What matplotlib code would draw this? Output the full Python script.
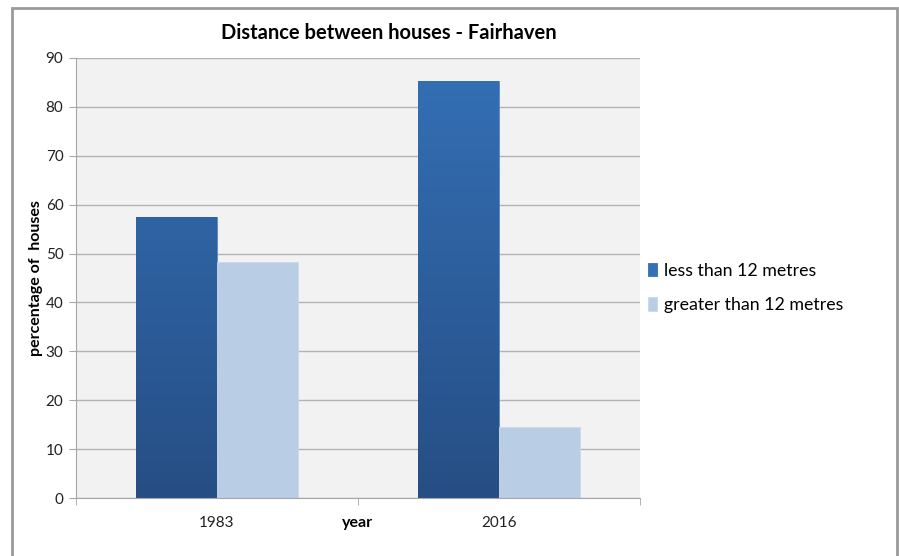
import matplotlib.pyplot as plt
import numpy as np
from matplotlib.colors import LinearSegmentedColormap
from matplotlib.patches import Rectangle

plt.rcParams['font.family'] = ['Lato', 'DejaVu Sans']

years = ['1983', '2016']
less_than_12 = [57.4, 85.2]
greater_than_12 = [48.3, 14.6]
series_names = ['less than 12 metres', 'greater than 12 metres']

dark_top = '#3470b6'
dark_bottom = '#264e84'
light = '#b9cde5'

fig = plt.figure(figsize=(8.99, 5.56), dpi=100)
ax = fig.add_axes([0.0845, 0.1043, 0.6273, 0.7914])
ax.set_facecolor('#f2f2f2')

x = np.arange(len(years))
width = 0.287

# dark series gets a vertical gradient, clipped to each bar
grad = LinearSegmentedColormap.from_list('blues', [dark_bottom, dark_top])
bars_dark = ax.bar(x - width / 2, less_than_12, width, color=dark_top,
                   edgecolor='#5b86c0', linewidth=0.6, zorder=2,
                   label=series_names[0])
for b in bars_dark:
    bx = b.get_x()
    bw = b.get_width()
    img = ax.imshow(np.linspace(0, 1, 256).reshape(-1, 1), cmap=grad,
                    origin='lower', aspect='auto',
                    extent=[bx, bx + bw, 0, 90], zorder=2.5)
    img.set_clip_path(b)

ax.bar(x + width / 2, greater_than_12, width, color=light,
       edgecolor='#c8d8ec', linewidth=0.6, zorder=2, label=series_names[1])

ax.set_xlim(-0.5, 1.5)
ax.set_ylim(0, 90)
ax.set_yticks(np.arange(0, 91, 10))
ax.yaxis.grid(True, color='#b3b3b3', linewidth=1)
ax.set_axisbelow(True)

ax.set_xticks(x)
ax.set_xticklabels(years)
ax.set_xticks([-0.5, 0.5, 1.5], minor=True)
ax.tick_params(axis='x', which='major', length=0, pad=13, labelsize=11,
               colors='#222222')
ax.tick_params(axis='x', which='minor', length=5, color='#a6a6a6')
ax.tick_params(axis='y', length=5, color='#a6a6a6', labelsize=11,
               labelcolor='#222222', pad=4)

for s in ['top', 'right']:
    ax.spines[s].set_visible(False)
for s in ['left', 'bottom']:
    ax.spines[s].set_color('#a6a6a6')

ax.set_xlabel('year', fontsize=11.5, fontweight='bold', labelpad=-10)
ax.set_ylabel('percentage of  houses', fontsize=11.5, fontweight='bold',
              labelpad=2)

fig.text(0.433, 0.94, 'Distance between houses - Fairhaven', ha='center',
         va='center', fontsize=14.5, fontweight='bold')

leg = ax.legend(loc='center left', bbox_to_anchor=(0.99, 0.477),
                frameon=False, fontsize=12.8, handlelength=0.5,
                handleheight=0.8, handletextpad=0.35, labelspacing=1.05,
                borderaxespad=0.4)
leg.legend_handles[0].set_color(dark_top)

# outer frame of the chart
fig.patches.append(Rectangle((0.0135, -0.05), 0.984, 1.035,
                             transform=fig.transFigure, fill=False,
                             edgecolor='#9a9a9a', linewidth=2))

fig.savefig('out.png', dpi=100)
